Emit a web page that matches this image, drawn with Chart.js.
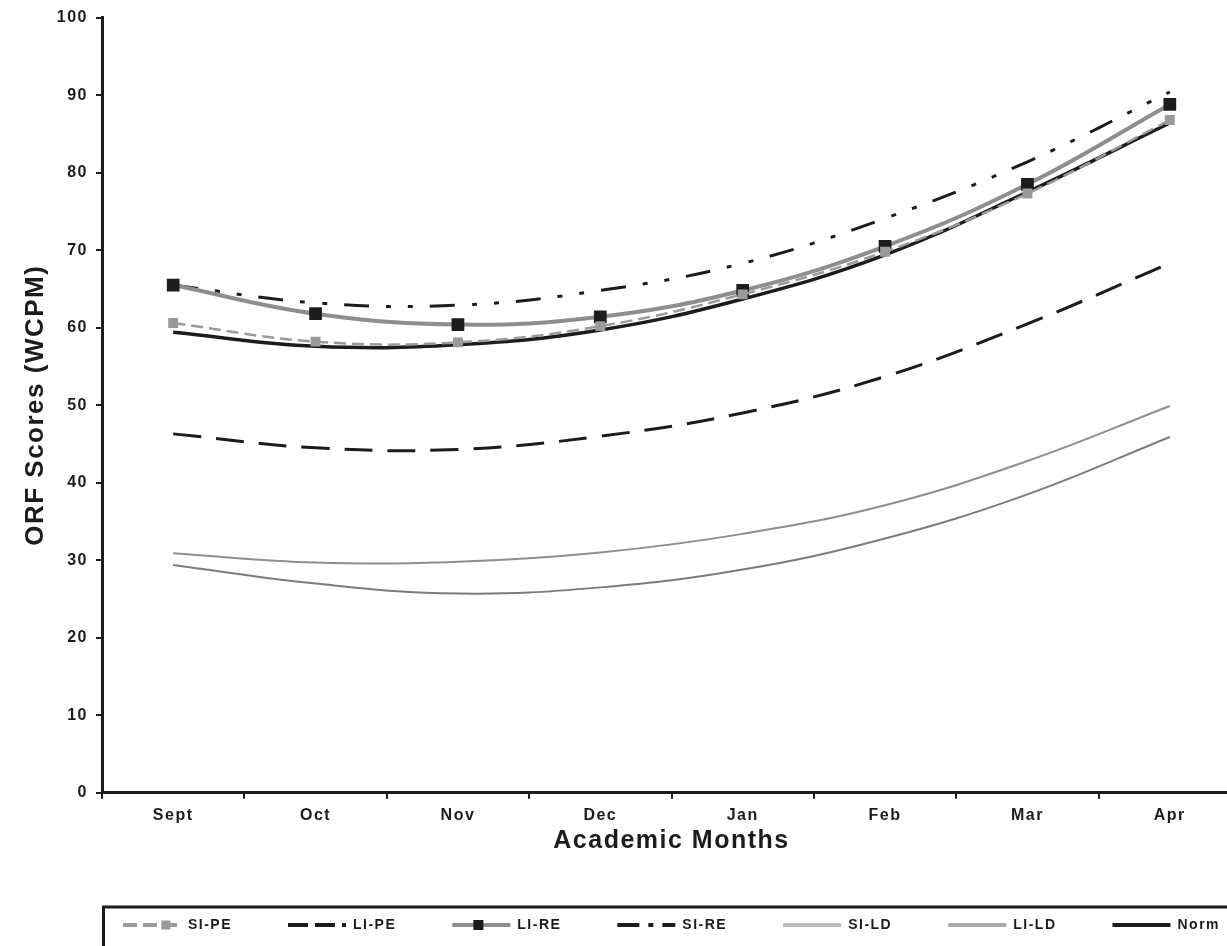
<!DOCTYPE html>
<html>
<head>
<meta charset="utf-8">
<script src="https://cdn.jsdelivr.net/npm/chart.js@4"></script>
<style>
  html, body { margin: 0; padding: 0; background: #fff; overflow: hidden; width: 1227px; height: 946px; }
  canvas { display: block; }
</style>
</head>
<body>
<canvas id="c" width="1250" height="946" style="width:1250px;height:946px"></canvas>
<script>
const months = ['Sept', 'Oct', 'Nov', 'Dec', 'Jan', 'Feb', 'Mar', 'Apr'];
const siPE = [60.6, 58.2, 58.1, 60.2, 64.3, 69.8, 77.3, 86.8];
const liPE = [46.3, 44.5, 44.3, 46.0, 49.0, 53.7, 60.5, 68.3];
const liRE = [65.5, 61.8, 60.4, 61.4, 64.8, 70.5, 78.5, 88.8];
const siRE = [65.5, 63.2, 62.9, 64.8, 68.3, 74.1, 81.4, 90.4];
const siLD = [30.9, 29.7, 29.8, 31.0, 33.4, 37.1, 42.8, 49.9];
const liLD = [29.4, 27.0, 25.7, 26.5, 28.8, 32.8, 38.5, 45.9];
const norm = [59.4, 57.6, 57.8, 59.7, 63.7, 69.4, 77.5, 86.4];
const yTicks = [0, 10, 20, 30, 40, 50, 60, 70, 80, 90, 100];

const FONT = "'Liberation Sans', Arial, sans-serif";
const INK = '#1c1c1c';
const SWATCH = 58;

const spacing = {
  id: 'spacing',
  beforeUpdate(chart) { chart.ctx.letterSpacing = '1.5px'; },
  beforeDraw(chart) { chart.ctx.letterSpacing = '1.5px'; },
  afterLayout(chart) {
    const lg = chart.legend;
    const ca = chart.chartArea;
    const dx = (ca.left + ca.right) / 2 - (lg.left + lg.right) / 2;
    lg.left += dx;
    lg.right += dx;
  }
};

const legendDecor = {
  id: 'legendDecor',
  afterDraw(chart) {
    const lg = chart.legend;
    const ctx = chart.ctx;
    const hb = lg.legendHitBoxes;
    if (!hb || !hb.length) return;
    ctx.save();
    const cy0 = hb[0].top + 7;
    ctx.strokeStyle = INK;
    ctx.lineWidth = 3;
    ctx.strokeRect(chart.chartArea.left + 1.5, cy0 - 18, chart.width + 20, 80);
    const marks = [[0, '#9a9a9a', 0.74, 9], [2, INK, 0.45, 10]];
    marks.forEach(([i, col, f, s]) => {
      const b = hb[i];
      const cx = b.left + SWATCH * f;
      const cy = b.top + 7;
      ctx.fillStyle = col;
      ctx.fillRect(cx - s / 2, cy - s / 2, s, s);
    });
    ctx.restore();
  }
};

const ds = (label, data, color, width, dash, extra) => Object.assign({
  label, data,
  borderColor: color,
  backgroundColor: color,
  borderWidth: width,
  borderDash: dash,
  pointRadius: 0,
  tension: 0.4,
  fill: false
}, extra || {});

new Chart(document.getElementById('c'), {
  type: 'line',
  data: {
    labels: months,
    datasets: [
      ds('SI-PE', siPE, '#9a9a9a', 2.5, [12, 6], { legendDash: [14, 6], legendWidth: 4, pointRadius: 7, pointStyle: 'rect', pointBackgroundColor: '#9a9a9a', pointBorderWidth: 0 }),
      ds('LI-PE', liPE, INK, 3, [28, 15], { legendDash: [20, 7], legendWidth: 4 }),
      ds('LI-RE', liRE, '#8e8e8e', 4, [], { legendWidth: 4, pointRadius: 9, pointStyle: 'rect', pointBackgroundColor: INK, pointBorderColor: INK, pointBorderWidth: 0 }),
      ds('SI-RE', siRE, INK, 3, [25, 17, 5, 17, 5, 17], { legendDash: [22, 9, 5, 9], legendWidth: 4 }),
      ds('SI-LD', siLD, '#8e8e8e', 2, [], { legendColor: '#bdbdbd', legendWidth: 4 }),
      ds('LI-LD', liLD, '#7c7c7c', 2, [], { legendColor: '#a8a8a8', legendWidth: 4 }),
      ds('Norm', norm, INK, 3.5, [], { legendWidth: 4 })
    ]
  },
  options: {
    responsive: false,
    animation: false,
    layout: { padding: { top: 17, right: 8, left: 0, bottom: 4 } },
    plugins: {
      tooltip: { enabled: false },
      legend: {
        position: 'bottom',
        fullSize: true,
        labels: {
          usePointStyle: true,
          pointStyle: 'line',
          pointStyleWidth: SWATCH,
          padding: 56,
          color: INK,
          font: { family: FONT, size: 14, weight: 'bold' },
          generateLabels(chart) {
            return chart.data.datasets.map((d, i) => ({
              text: d.label,
              datasetIndex: i,
              fillStyle: 'rgba(0,0,0,0)',
              strokeStyle: d.legendColor || d.borderColor,
              lineWidth: d.legendWidth || d.borderWidth,
              lineDash: d.legendDash || d.borderDash || [],
              lineCap: 'butt',
              pointStyle: 'line',
              hidden: false,
              fontColor: INK
            }));
          }
        }
      }
    },
    scales: {
      x: {
        offset: true,
        border: { color: INK, width: 3 },
        grid: { display: true, drawOnChartArea: false, drawTicks: true, tickLength: 6, color: INK, lineWidth: 2, offset: true },
        ticks: { color: INK, padding: 7, font: { family: FONT, size: 16, weight: 'bold' } },
        title: { display: true, text: 'Academic Months', color: INK, padding: { top: -6, bottom: 6 }, font: { family: FONT, size: 25, weight: 'bold' } }
      },
      y: {
        min: 0, max: 100,
        afterFit(scale) { scale.width = 102; },
        afterBuildTicks(scale) { scale.ticks = yTicks.map(v => ({ value: v })); },
        border: { color: INK, width: 3 },
        grid: { display: true, drawOnChartArea: false, drawTicks: true, tickLength: 6, color: INK, lineWidth: 2 },
        ticks: { color: INK, padding: 8, font: { family: FONT, size: 16, weight: 'bold' } },
        title: { display: true, text: 'ORF Scores (WCPM)', color: INK, padding: { top: 20, bottom: 0 }, font: { family: FONT, size: 26, weight: 'bold' } }
      }
    }
  },
  plugins: [spacing, legendDecor]
});
</script>
</body>
</html>
